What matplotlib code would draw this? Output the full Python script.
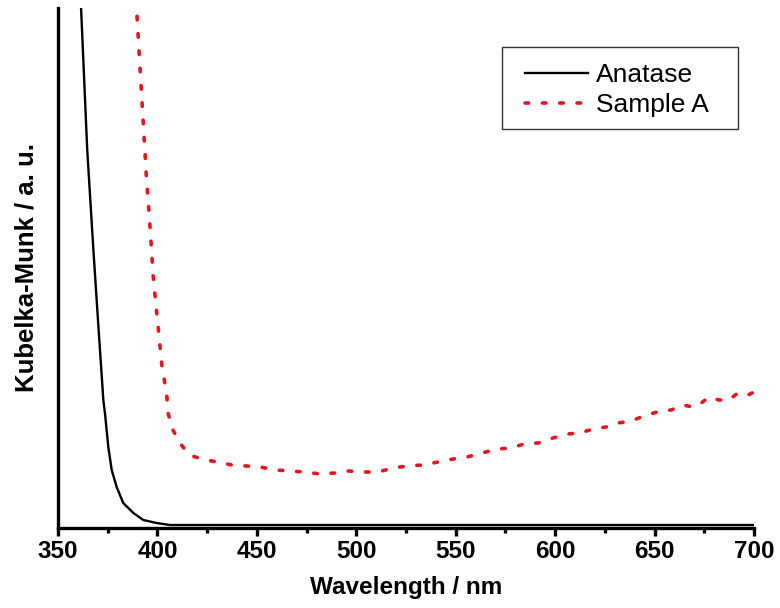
import matplotlib
matplotlib.use("Agg")
import matplotlib.pyplot as plt
from matplotlib.patches import Rectangle
from matplotlib.ticker import MultipleLocator

plt.rcParams['font.family'] = ['Liberation Sans', 'DejaVu Sans']

# Anatase (black solid)
anatase_nm = [360.3, 361.6, 364.7, 367.8, 370.0, 372.8, 373.6, 375.3, 377.0, 379.5,
              382.8, 387.9, 392.9, 399.6, 406.3, 450.0, 500.0, 550.0, 600.0, 650.0, 700.0]
anatase_km = [580, 520, 378, 278, 211, 128, 115, 81, 58, 41,
              25, 15, 8, 5, 3, 3, 3, 3, 3, 3, 3]

# Sample A (red dotted)
sample_nm = [387.7, 389.6, 394.6, 395.8, 396.8, 397.8, 399.3, 400.8, 402.3, 403.8,
             404.8, 405.3, 407.8, 411.3, 415.9, 422.4, 430.0, 437.5, 445.0, 451.6,
             459.6, 466.7, 474.2, 481.7, 489.3, 496.3, 503.9, 510.9, 518.5, 525.5,
             533.5, 541.1, 548.6, 555.7, 563.2, 570.8, 577.8, 584.3, 591.4, 598.9,
             606.0, 612.5, 619.0, 625.6, 631.6, 638.1, 644.7, 651.2, 658.3, 664.3,
             669.3, 672.8, 677.4, 682.4, 687.4, 691.9, 697.0, 700.0]
sample_km = [578, 516, 346, 315, 285, 253, 222, 192, 161, 144,
             130, 115, 98, 85, 73, 69, 66, 63, 62, 61,
             58, 57, 56, 54, 55, 57, 56, 56, 60, 62,
             63, 66, 69, 71, 75, 79, 80, 84, 85, 90,
             94, 95, 99, 101, 105, 107, 112, 116, 118, 123,
             121, 124, 131, 128, 128, 135, 133, 136]

fig = plt.figure(figsize=(7.8, 6.08), dpi=100)
ax = fig.add_axes([58/780, 80/608, 696/780, 520/608])

ax.plot(anatase_nm, anatase_km, color='black', lw=1.7, label='Anatase')
ax.plot(sample_nm, sample_km, color='#e8141c', lw=2.6,
        linestyle=(0, (1, 3.8)), dash_capstyle='round', label='Sample A')

ax.set_xlim(350, 700)
ax.set_ylim(0, 520)

for s in ['top', 'right']:
    ax.spines[s].set_visible(False)
for s in ['left', 'bottom']:
    ax.spines[s].set_linewidth(2.4)

ax.xaxis.set_major_locator(MultipleLocator(50))
ax.xaxis.set_minor_locator(MultipleLocator(25))
ax.tick_params(axis='x', which='major', direction='out', length=6, width=2.4,
               labelsize=17.5, pad=3)
ax.tick_params(axis='x', which='minor', direction='out', length=3.5, width=2.4)
ax.set_yticks([])
for lbl in ax.get_xticklabels():
    lbl.set_fontweight('bold')

ax.set_xlabel('Wavelength / nm', fontsize=17.5, fontweight='bold', labelpad=9)
ax.set_ylabel('Kubelka-Munk / a. u.', fontsize=18.5, fontweight='bold', labelpad=14)

# legend frame (drawn separately to get the asymmetric padding of the original)
ax.add_patch(Rectangle((0.638, 0.767), 0.339, 0.158, transform=ax.transAxes,
                       facecolor='white', edgecolor='#333333', lw=1.0, zorder=4))
leg = ax.legend(loc='upper left', bbox_to_anchor=(0.671, 0.894), borderaxespad=0,
                fontsize=19, handlelength=2.4, handletextpad=0.3, frameon=False,
                borderpad=0, labelspacing=0.22)
leg.set_zorder(5)

fig.savefig('out.png', dpi=100)
